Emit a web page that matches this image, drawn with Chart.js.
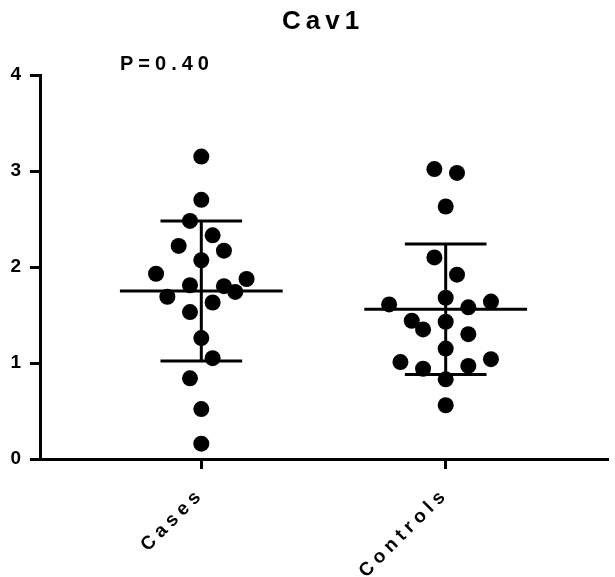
<!DOCTYPE html>
<html>
<head>
<meta charset="utf-8">
<script src="https://cdn.jsdelivr.net/npm/chart.js@4.4.1/dist/chart.umd.min.js"></script>
<style>
  html, body { margin: 0; padding: 0; background: #fff; }
  #wrap { width: 615px; height: 577px; }
</style>
</head>
<body>
<div id="wrap"><canvas id="c" width="615" height="577"></canvas></div>
<script>
// ---- data ----
const chartTitle = 'Cav1';
const pValueText = 'P=0.40';
const categories = ['Cases', 'Controls'];
const yTicks = [0, 1, 2, 3, 4];

const casesValues   = [3.15, 2.70, 2.48, 2.33, 2.22, 2.17, 2.07, 1.93, 1.875, 1.81, 1.80, 1.74, 1.69, 1.63, 1.53, 1.26, 1.05, 0.84, 0.52, 0.16];
const casesJitter   = [0, 0, -1, 1, -2, 2, 0, -4, 4, -1, 2, 3, -3, 1, -1, 0, 1, -1, 0, 0];
const controlsValues = [3.02, 2.98, 2.63, 2.10, 1.92, 1.68, 1.61, 1.64, 1.58, 1.44, 1.35, 1.43, 1.30, 1.15, 1.01, 1.04, 0.94, 0.97, 0.83, 0.56];
const controlsJitter = [-1, 1, 0, -1, 1, 0, -5, 4, 2, -3, -2, 0, 2, 0, -4, 4, -2, 2, 0, 0];

const groupMeans = [1.75, 1.56];
const groupSDs   = [0.73, 0.68];

// ---- styling ----
const FONT = '"Liberation Sans", Arial, sans-serif';
const SLOT = 0.0463;      // horizontal jitter step (x units)
const MEAN_HALF = 0.333;  // half width of mean line
const CAP_HALF = 0.167;   // half width of SD caps

const groupsValues = [casesValues, controlsValues];
const groupsJitter = [casesJitter, controlsJitter];

const datasets = [];
groupsValues.forEach((vals, g) => {
  const cx = g + 1;
  datasets.push({
    type: 'scatter',
    data: vals.map((v, i) => ({ x: cx + groupsJitter[g][i] * SLOT, y: v })),
    pointRadius: 8, pointHoverRadius: 8,
    backgroundColor: '#000', borderColor: '#000', borderWidth: 0,
    clip: false, order: 2
  });
});
groupMeans.forEach((m, g) => {
  const cx = g + 1, sd = groupSDs[g];
  const seg = (pts) => ({
    type: 'line', data: pts, showLine: true, pointRadius: 0,
    borderColor: '#000', borderWidth: 3, fill: false, clip: false, order: 1,
    borderCapStyle: 'butt'
  });
  datasets.push(seg([{ x: cx - MEAN_HALF, y: m }, { x: cx + MEAN_HALF, y: m }]));
  datasets.push(seg([{ x: cx, y: m - sd }, { x: cx, y: m + sd }]));
  datasets.push(seg([{ x: cx - CAP_HALF, y: m + sd }, { x: cx + CAP_HALF, y: m + sd }]));
  datasets.push(seg([{ x: cx - CAP_HALF, y: m - sd }, { x: cx + CAP_HALF, y: m - sd }]));
});

const spacingPlugin = {
  id: 'spacing',
  beforeUpdate(chart) { chart.ctx.letterSpacing = '5px'; },
  beforeDraw(chart) { chart.ctx.letterSpacing = '5px'; },
  afterDraw(chart) {
    const ctx = chart.ctx;
    ctx.save();
    ctx.fillStyle = '#000';
    ctx.textBaseline = 'alphabetic';
    ctx.textAlign = 'left';
    ctx.letterSpacing = '5px';
    ctx.font = 'bold 26px ' + FONT;
    ctx.fillText(chartTitle, 282, 29);
    ctx.letterSpacing = '5px';
    ctx.font = 'bold 20px ' + FONT;
    ctx.fillText(pValueText, 120, 70);
    ctx.restore();
  }
};

new Chart(document.getElementById('c'), {
  data: { datasets },
  options: {
    responsive: false,
    animation: false,
    events: [],
    layout: { padding: { top: 75, right: 2, left: 0, bottom: 0 } },
    plugins: { legend: { display: false }, tooltip: { enabled: false }, title: { display: false } },
    scales: {
      x: {
        type: 'linear', min: 0.34, max: 2.66,
        afterBuildTicks: (axis) => { axis.ticks = categories.map((c, i) => ({ value: i + 1 })); },
        afterFit: (s) => { s.height = 118; },
        ticks: {
          callback: (v) => categories[v - 1] || '',
          minRotation: 45, maxRotation: 45, autoSkip: false,
          color: '#000', font: { family: FONT, size: 19, weight: 'bold' }, padding: 14
        },
        grid: { display: true, drawOnChartArea: false, drawTicks: true, tickLength: 10, tickWidth: 3, tickColor: '#000', lineWidth: 3, color: '#000' },
        border: { display: true, width: 3, color: '#000' }
      },
      y: {
        type: 'linear', min: 0, max: 4,
        afterBuildTicks: (axis) => { axis.ticks = yTicks.map(v => ({ value: v })); },
        afterFit: (s) => { s.width = 40; },
        ticks: { color: '#000', font: { family: FONT, size: 19, weight: 'bold' }, padding: 4 },
        grid: { display: true, drawOnChartArea: false, drawTicks: true, tickLength: 10, tickWidth: 3, tickColor: '#000', lineWidth: 3, color: '#000' },
        border: { display: true, width: 3, color: '#000' }
      }
    }
  },
  plugins: [spacingPlugin]
});
</script>
</body>
</html>
